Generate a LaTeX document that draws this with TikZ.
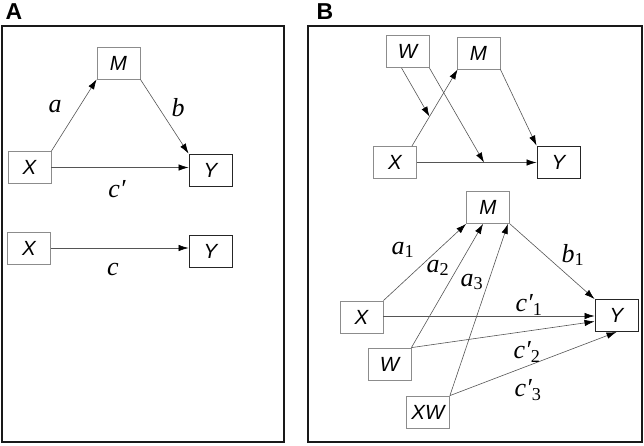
\documentclass[tikz,border=0pt]{standalone}
\usepackage{fontspec}
\setmainfont{Liberation Serif}
\newfontfamily\boxfont{Liberation Sans}
\newfontfamily\panelfont{Liberation Sans}
\usetikzlibrary{arrows.meta}
\definecolor{boxgray}{HTML}{8C8C8C}
\definecolor{linegray}{HTML}{555555}
\tikzset{
  var/.style={draw=boxgray, line width=0.8pt, minimum width=43pt, minimum height=32pt, inner sep=0pt,
    font=\boxfont\itshape\fontsize{20.5}{20.5}\selectfont},
  outvar/.style={var, draw=black!85, line width=1pt},
  conn/.style={draw=linegray, line width=0.6pt, -{Latex[length=10pt,width=6.5pt,black]}},
  lbl/.style={inner sep=0pt, font=\itshape\fontsize{26}{26}\selectfont},
  panel/.style={draw=black!90, line width=2.6pt},
  plabel/.style={inner sep=0pt, font=\panelfont\bfseries\fontsize{23}{23}\selectfont}
}
\begin{document}
\begin{tikzpicture}[x=1pt,y=-1pt]
\useasboundingbox (0,0) rectangle (644,445);
% panel frames
\draw[panel] (2,26) rectangle (284,442);
\draw[panel] (308,26) rectangle (642,442);
\node[plabel] (pA) at (14,12) {A};
\node[plabel] (pB) at (325,12) {B};
% ---------- Panel A
\node[var] (aM) at (118.5,63) {M};
\node[var] (aX) at (29.5,167.5) {X};
\node[outvar] (aY) at (210.5,170) {Y};
\node[var] (aX2) at (29,248) {X};
\node[outvar] (aY2) at (210.5,251) {Y};
\draw[conn] (aX.north east) -- (aM.south west);
\draw[conn] (aM.south east) -- (aY.north west);
\draw[conn] (aX.east) -- (aX.east -| aY.west);
\draw[conn] (aX2.east) -- (aX2.east -| aY2.west);
\node[lbl] (la) at (55,107) {a};
\node[lbl] (lb) at (178,108) {b};
\node[lbl] (lcp) at (117,189) {c′};
\node[lbl] (lc) at (113,269) {c};
% ---------- Panel B (upper)
\node[var] (bW) at (407.5,51.5) {W};
\node[var] (bM) at (478.5,53) {M};
\node[var] (bX) at (395,162.5) {X};
\node[outvar] (bY) at (558.5,162) {Y};
\coordinate (bXs) at ([xshift=-5pt]bX.north east);
\coordinate (bMe) at ([xshift=1pt]bM.south west);
\draw[conn] (bXs) -- (bMe);
\path (bXs) -- (bMe) coordinate[pos=0.385] (bmid1);
\draw[conn] (bX.east) -- (bX.east -| bY.west);
\coordinate (bmid2) at (484,162.5);
\draw[conn] ([xshift=-6pt]bW.south) -- (bmid1);
\draw[conn] (bW.south east) -- (bmid2);
\draw[conn] (bM.south east) -- (bY.north west);
% ---------- Panel B (lower)
\node[var] (cM) at (488,207.5) {M};
\node[var] (cX) at (361.5,317) {X};
\node[var] (cW) at (389.5,364) {W};
\node[var] (cXW) at (428,412) {XW};
\node[outvar] (cY) at (616.5,315.5) {Y};
\draw[conn] (cX.north east) -- (cM.south west);
\draw[conn] (cW.north east) -- ([xshift=-5pt]cM.south);
\draw[conn] (cXW.north east) -- ([xshift=-2pt]cM.south east);
\draw[conn] (cM.south east) -- (cY.north west);
\draw[conn] (cX.east |- 0,316) -- (cY.west |- 0,316);
\draw[conn] (cW.north east) -- ([yshift=-6pt]cY.west);
\draw[conn] (cXW.north east) -- (cY.south);
\node[lbl] (la1) at (403,250) {a\textsubscript{\upshape 1}};
\node[lbl] (la2) at (438,268) {a\textsubscript{\upshape 2}};
\node[lbl] (la3) at (472,282) {a\textsubscript{\upshape 3}};
\node[lbl] (lb1) at (573,255) {b\textsubscript{\upshape 1}};
\node[lbl] (lc1) at (529,305) {c′\textsubscript{\upshape 1}};
\node[lbl] (lc2) at (527,352) {c′\textsubscript{\upshape 2}};
\node[lbl] (lc3) at (528,390) {c′\textsubscript{\upshape 3}};
\end{tikzpicture}
\end{document}
